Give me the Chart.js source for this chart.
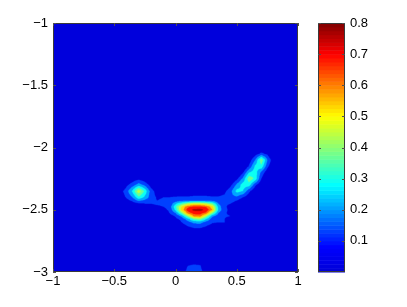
<!DOCTYPE html>
<html lang="en">
<head>
<meta charset="UTF-8">
<title>Filled contour map</title>
<style>
html, body { margin: 0; padding: 0; background: #fff; }
#wrap { width: 407px; height: 307px; }
</style>
</head>
<body>
<div id="wrap"><canvas id="myChart" width="407" height="307"></canvas></div>
<script src="https://cdn.jsdelivr.net/npm/chart.js@4.4.0/dist/chart.umd.min.js"></script>
<script>
// sample grid (value 0 outside it)
var gridX = [-0.5, -0.45, -0.4, -0.35, -0.3, -0.25, -0.2, -0.15, -0.1, -0.05, 0, 0.05, 0.1, 0.15,
             0.2, 0.25, 0.3, 0.35, 0.4, 0.45, 0.5, 0.55, 0.6, 0.65, 0.7, 0.75, 0.8, 0.85];
var gridY = [-2.0, -2.05, -2.1, -2.15, -2.2, -2.25, -2.3, -2.35, -2.4, -2.425, -2.45, -2.475,
             -2.5, -2.525, -2.55, -2.575, -2.6, -2.65, -2.7, -2.9, -2.95, -3.0];
var gridZ = [
[0,0,0,0,0,0,0,0,0,0,0,0,0,0,0,0,0,0,0,0,0,0,0,0,0.04,0,0,0],
[0,0,0,0,0,0,0,0,0,0,0,0,0,0,0,0,0,0,0,0,0,0,0,0.08,0.14,0.1,0,0],
[0,0,0,0,0,0,0,0,0,0,0,0,0,0,0,0,0,0,0,0,0,0,0.07,0.2,0.42,0.2,0.05,0],
[0,0,0,0,0,0,0,0,0,0,0,0,0,0,0,0,0,0,0,0,0,0,0.13,0.3,0.34,0.14,0.04,0],
[0,0,0,0,0,0,0,0,0,0,0,0,0,0,0,0,0,0,0,0,0,0.11,0.28,0.32,0.18,0.06,0,0],
[0,0,0.04,0.07,0.1,0.06,0,0,0,0,0,0,0,0,0,0,0,0,0,0,0.1,0.22,0.42,0.34,0.12,0,0,0],
[0,0,0.1,0.16,0.24,0.18,0.08,0,0,0,0,0,0,0,0,0,0,0,0,0.1,0.22,0.32,0.32,0.14,0.04,0,0,0],
[0,0.09,0.16,0.3,0.5,0.34,0.16,0.08,0.05,0.05,0.05,0.06,0.06,0.06,0.06,0.06,0.06,0.07,0.1,0.18,0.31,0.28,0.14,0.04,0,0,0,0],
[0,0.06,0.13,0.2,0.34,0.26,0.16,0.11,0.12,0.12,0.13,0.13,0.13,0.14,0.14,0.14,0.13,0.13,0.14,0.18,0.18,0.12,0.06,0,0,0,0,0],
[0,0,0.09,0.14,0.22,0.18,0.14,0.12,0.13,0.12,0.15,0.17,0.18,0.19,0.19,0.18,0.17,0.14,0.13,0.15,0.12,0.06,0,0,0,0,0,0],
[0,0,0.04,0.08,0.11,0.12,0.12,0.13,0.13,0.13,0.26,0.36,0.45,0.5,0.5,0.46,0.38,0.2,0.13,0.12,0.08,0,0,0,0,0,0,0],
[0,0,0,0,0.05,0.08,0.1,0.11,0.12,0.14,0.35,0.52,0.66,0.7,0.7,0.67,0.55,0.25,0.13,0.1,0.05,0,0,0,0,0,0,0],
[0,0,0,0,0,0,0.05,0.08,0.1,0.13,0.3,0.55,0.72,0.78,0.79,0.74,0.6,0.26,0.14,0.1,0.04,0,0,0,0,0,0,0],
[0,0,0,0,0,0,0,0,0.06,0.12,0.2,0.4,0.64,0.72,0.72,0.66,0.42,0.2,0.13,0.1,0,0,0,0,0,0,0,0],
[0,0,0,0,0,0,0,0,0,0.08,0.13,0.22,0.42,0.62,0.64,0.45,0.22,0.15,0.13,0.12,0.05,0,0,0,0,0,0,0],
[0,0,0,0,0,0,0,0,0,0.04,0.1,0.14,0.24,0.38,0.42,0.28,0.15,0.13,0.12,0.08,0,0,0,0,0,0,0,0],
[0,0,0,0,0,0,0,0,0,0,0.06,0.12,0.17,0.22,0.23,0.17,0.13,0.12,0.12,0.06,0,0,0,0,0,0,0,0],
[0,0,0,0,0,0,0,0,0,0,0,0.05,0.09,0.11,0.11,0.09,0.06,0.05,0.04,0,0,0,0,0,0,0,0,0],
[0,0,0,0,0,0,0,0,0,0,0,0,0,0,0,0,0,0,0,0,0,0,0,0,0,0,0,0],
[0,0,0,0,0,0,0,0,0,0,0,0,0.04,0.06,0.05,0,0,0,0,0,0,0,0,0,0,0,0,0],
[0,0,0,0,0,0,0,0,0,0,0,0.05,0.12,0.14,0.13,0.05,0,0,0,0,0,0,0,0,0,0,0,0],
[0,0,0,0,0,0,0,0,0,0,0,0.08,0.15,0.16,0.15,0.07,0,0,0,0,0,0,0,0,0,0,0,0]
];

var levels = [0, 0.12, 0.2, 0.28, 0.36, 0.44, 0.52, 0.6, 0.68, 0.76];
var xTicks = [-1, -0.5, 0, 0.5, 1];
var yTicks = [-3, -2.5, -2, -1.5, -1];
var barTicks = [0.1, 0.2, 0.3, 0.4, 0.5, 0.6, 0.7, 0.8];

// jet-like colour map over 0..0.8
var cmapPos = [0, 0.08, 0.28, 0.5, 0.7, 0.8];
var cmapRGB = [[0,0,215], [0,0,255], [0,255,255], [255,255,0], [255,0,0], [128,0,0]];

function cmap(v) {
  if (v <= cmapPos[0]) return cmapRGB[0];
  for (var i = 1; i < cmapPos.length; i++) {
    if (v <= cmapPos[i]) {
      var t = (v - cmapPos[i-1]) / (cmapPos[i] - cmapPos[i-1]);
      var a = cmapRGB[i-1], b = cmapRGB[i];
      return [a[0] + (b[0]-a[0])*t, a[1] + (b[1]-a[1])*t, a[2] + (b[2]-a[2])*t];
    }
  }
  return cmapRGB[cmapRGB.length-1];
}

var bandColors = levels.map(function(l) { return cmap(l + 0.01); });

function fieldAt(x, y) {
  if (x < gridX[0] || x > gridX[gridX.length-1]) return 0;
  if (y > gridY[0] || y < gridY[gridY.length-1]) return 0;
  var i = 0, j = 0;
  while (i < gridX.length - 2 && x > gridX[i+1]) i++;
  while (j < gridY.length - 2 && y < gridY[j+1]) j++;
  var tx = (x - gridX[i]) / (gridX[i+1] - gridX[i]);
  var ty = (y - gridY[j]) / (gridY[j+1] - gridY[j]);
  var z00 = gridZ[j][i], z01 = gridZ[j][i+1], z10 = gridZ[j+1][i], z11 = gridZ[j+1][i+1];
  return (z00*(1-tx) + z01*tx) * (1-ty) + (z10*(1-tx) + z11*tx) * ty;
}

function fmt(v) {
  return (v < 0 ? '\u2212' : '') + Math.abs(v);
}

var contourPlugin = {
  id: 'contour',
  beforeDatasetsDraw: function(chart) {
    var a = chart.chartArea, xs = chart.scales.x, ys = chart.scales.y, ctx = chart.ctx;
    var ss = 3;
    var w = Math.round(a.right - a.left), h = Math.round(a.bottom - a.top);
    var off = document.createElement('canvas');
    off.width = w * ss; off.height = h * ss;
    var octx = off.getContext('2d');
    var img = octx.createImageData(w * ss, h * ss);
    for (var j = 0; j < h * ss; j++) {
      var yv = ys.getValueForPixel(a.top + (j + 0.5) / ss);
      for (var i = 0; i < w * ss; i++) {
        var xv = xs.getValueForPixel(a.left + (i + 0.5) / ss);
        var z = fieldAt(xv, yv);
        var k = 0;
        while (k < levels.length - 1 && z >= levels[k+1]) k++;
        var c = bandColors[k];
        var p = (j * w * ss + i) * 4;
        img.data[p] = c[0]; img.data[p+1] = c[1]; img.data[p+2] = c[2]; img.data[p+3] = 255;
      }
    }
    octx.putImageData(img, 0, 0);
    ctx.save();
    ctx.imageSmoothingEnabled = true;
    ctx.imageSmoothingQuality = 'high';
    ctx.drawImage(off, a.left, a.top, w, h);
    ctx.restore();
  },
  afterDraw: function(chart) {
    var a = chart.chartArea, ctx = chart.ctx;
    var xs = chart.scales.x, ys = chart.scales.y, cb = chart.scales.cb;
    ctx.save();
    // colour bar
    var bl = a.right + 20, br = a.right + 47, n = 64;
    for (var i = 0; i < n; i++) {
      var v0 = 0.8 * i / n, v1 = 0.8 * (i + 1) / n;
      var c = cmap((v0 + v1) / 2);
      var y0 = cb.getPixelForValue(v0), y1 = cb.getPixelForValue(v1);
      ctx.fillStyle = 'rgb(' + Math.round(c[0]) + ',' + Math.round(c[1]) + ',' + Math.round(c[2]) + ')';
      ctx.fillRect(bl, y1, br - bl, y0 - y1 + 0.5);
    }
    ctx.strokeStyle = '#3a3a3a';
    ctx.lineWidth = 1;
    ctx.strokeRect(a.left + 0.5, a.top + 0.5, a.right - a.left - 1, a.bottom - a.top - 1);
    ctx.strokeRect(bl + 0.5, a.top + 0.5, br - bl - 1, a.bottom - a.top - 1);
    // inward ticks
    ctx.strokeStyle = '#505050';
    ctx.beginPath();
    xTicks.forEach(function(v) {
      var px = Math.round(xs.getPixelForValue(v)) + 0.5;
      ctx.moveTo(px, a.bottom); ctx.lineTo(px, a.bottom - 3);
      ctx.moveTo(px, a.top); ctx.lineTo(px, a.top + 3);
    });
    yTicks.forEach(function(v) {
      var py = Math.round(ys.getPixelForValue(v)) + 0.5;
      ctx.moveTo(a.left, py); ctx.lineTo(a.left + 3, py);
      ctx.moveTo(a.right, py); ctx.lineTo(a.right - 3, py);
    });
    barTicks.forEach(function(v) {
      var py = Math.round(cb.getPixelForValue(v)) + 0.5;
      ctx.moveTo(bl, py); ctx.lineTo(bl + 3, py);
      ctx.moveTo(br, py); ctx.lineTo(br - 3, py);
    });
    ctx.stroke();
    ctx.restore();
  }
};

function tickList(list) {
  return function(scale) {
    scale.ticks = list.map(function(v) { return { value: v }; });
  };
}

Chart.defaults.font.family = '"Liberation Sans", Arial, Helvetica, sans-serif';
Chart.defaults.font.size = 13;
Chart.defaults.color = '#000';

var ctx = document.getElementById('myChart').getContext('2d');
var chart = new Chart(ctx, {
  type: 'scatter',
  data: { datasets: [{ data: [], pointRadius: 0 }] },
  options: {
    responsive: false,
    animation: false,
    devicePixelRatio: 1,
    layout: { padding: { top: 23, left: 0, right: 0, bottom: 0 } },
    plugins: { legend: { display: false }, tooltip: { enabled: false } },
    scales: {
      x: {
        type: 'linear', position: 'bottom', min: -1, max: 1,
        grid: { display: false, drawTicks: false },
        border: { display: false },
        afterBuildTicks: tickList(xTicks),
        afterFit: function(s) { s.height = 35; },
        ticks: { autoSkip: false, maxRotation: 0, padding: 2, callback: fmt }
      },
      y: {
        type: 'linear', position: 'left', min: -3, max: -1,
        grid: { display: false, drawTicks: false },
        border: { display: false },
        afterBuildTicks: tickList(yTicks),
        afterFit: function(s) { s.width = 53; },
        ticks: { autoSkip: false, padding: 5, callback: fmt }
      },
      cb: {
        type: 'linear', position: 'right', min: 0, max: 0.8,
        // long transparent tick marks push the labels past the colour bar
        grid: { display: true, drawOnChartArea: false, drawTicks: true, tickLength: 50, color: 'rgba(0,0,0,0)' },
        border: { display: false },
        afterBuildTicks: tickList(barTicks),
        afterFit: function(s) { s.width = 109; },
        ticks: { autoSkip: false, padding: 2, callback: fmt }
      }
    }
  },
  plugins: [contourPlugin]
});
</script>
</body>
</html>
